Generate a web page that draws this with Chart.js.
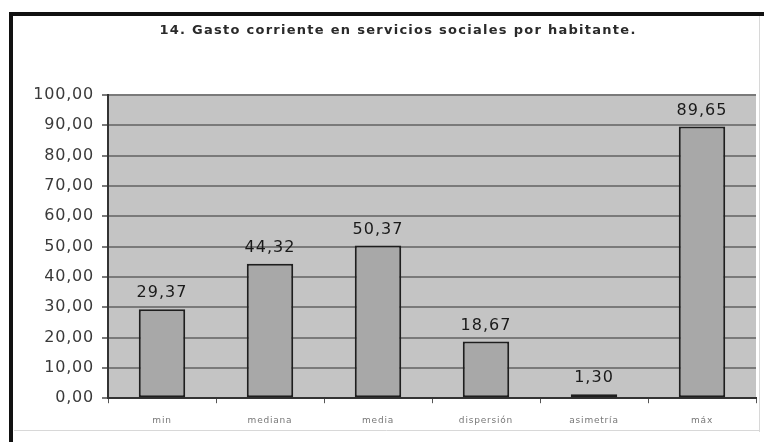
<!DOCTYPE html>
<html>
<head>
<meta charset="utf-8">
<script src="https://cdn.jsdelivr.net/npm/chart.js@4"></script>
<style>
html, body { margin: 0; padding: 0; background: #ffffff; overflow: hidden; }
#wrap { position: relative; width: 764px; height: 442px; }
</style>
</head>
<body>
<div id="wrap"><canvas id="grafico" width="764" height="442"></canvas></div>
<script>
// datos
var categorias = ["min", "mediana", "media", "dispersión", "asimetría", "máx"];
var valores = [29.37, 44.32, 50.37, 18.67, 1.30, 89.65];
var titulo = "14. Gasto corriente en servicios sociales por habitante.";

var fuente = "'DejaVu Sans', Verdana, sans-serif";

function coma(n, dec)
{
    return n.toFixed(dec).replace(".", ",");
}

// marco exterior, fondo gris y titulo
var marco = {
    id: 'marco',
    beforeLayout: function (chart) {
        chart.ctx.letterSpacing = "0.8px";
    },
    beforeDraw: function (chart) {
        var ctx = chart.ctx, a = chart.chartArea;
        ctx.letterSpacing = "0.8px";
        ctx.save();
        ctx.fillStyle = "#c4c4c4";
        ctx.fillRect(a.left, a.top, a.right - a.left, a.bottom - a.top);
        ctx.strokeStyle = "#d8d8d8";
        ctx.lineWidth = 1;
        ctx.beginPath();
        ctx.moveTo(759.5, 16);
        ctx.lineTo(759.5, 432);
        ctx.moveTo(14, 430.5);
        ctx.lineTo(759, 430.5);
        ctx.stroke();
        ctx.fillStyle = "#111111";
        ctx.fillRect(9, 12, 4, 430);
        ctx.fillRect(9, 12, 755, 4);
        // titulo, ajustado al ancho que tiene en la imagen (~477px)
        ctx.font = "bold 13px " + fuente;
        ctx.letterSpacing = "0px";
        var ancho = ctx.measureText(titulo).width;
        var extra = (477 - ancho) / titulo.length;
        ctx.letterSpacing = extra.toFixed(2) + "px";
        ctx.fillStyle = "#2a2a2a";
        ctx.textAlign = "center";
        ctx.textBaseline = "middle";
        ctx.fillText(titulo, 398, 31);
        ctx.restore();
    }
};

// etiquetas de valor sobre cada barra
var etiquetas = {
    id: 'etiquetas',
    afterDatasetsDraw: function (chart) {
        var ctx = chart.ctx;
        var meta = chart.getDatasetMeta(0);
        ctx.save();
        ctx.font = "16px " + fuente;
        ctx.letterSpacing = "1px";
        ctx.fillStyle = "#1a1a1a";
        ctx.textAlign = "center";
        ctx.textBaseline = "bottom";
        for (var i = 0; i < meta.data.length; i++) {
            var barra = meta.data[i];
            ctx.fillText(coma(valores[i], 2), barra.x, barra.y - 8);
        }
        ctx.restore();
    }
};

var ctx = document.getElementById("grafico").getContext('2d');
var config = {
    type: 'bar',
    data: {
        labels: categorias,
        datasets: [{
            data: valores,
            backgroundColor: "#a8a8a8",
            borderColor: "#1e1e1e",
            borderWidth: 2,
            borderSkipped: false,
            categoryPercentage: 1,
            barPercentage: 0.43
        }]
    },
    options: {
        responsive: false,
        animation: false,
        layout: { padding: { left: 0, right: 8, top: 95, bottom: 4 } },
        plugins: {
            legend: { display: false },
            tooltip: { enabled: false },
            title: { display: false }
        },
        scales: {
            x: {
                offset: true,
                grid: { offset: true, drawOnChartArea: false, color: "#555555", tickLength: 5 },
                border: { color: "#333333", width: 2 },
                ticks: {
                    color: "#777777",
                    padding: 12,
                    maxRotation: 0,
                    font: { family: fuente, size: 9 }
                }
            },
            y: {
                min: 0,
                max: 100,
                afterFit: function (scale) { scale.width = 108; },
                grid: { color: "#7a7a7a", lineWidth: 2, tickLength: 6 },
                border: { color: "#333333", width: 2 },
                ticks: {
                    stepSize: 10,
                    color: "#3a3a3a",
                    padding: 8,
                    font: { family: fuente, size: 16 },
                    callback: function (v) { return coma(v, 2); }
                }
            }
        }
    },
    plugins: [marco, etiquetas]
};
var chart = new Chart(ctx, config);
</script>
</body>
</html>
